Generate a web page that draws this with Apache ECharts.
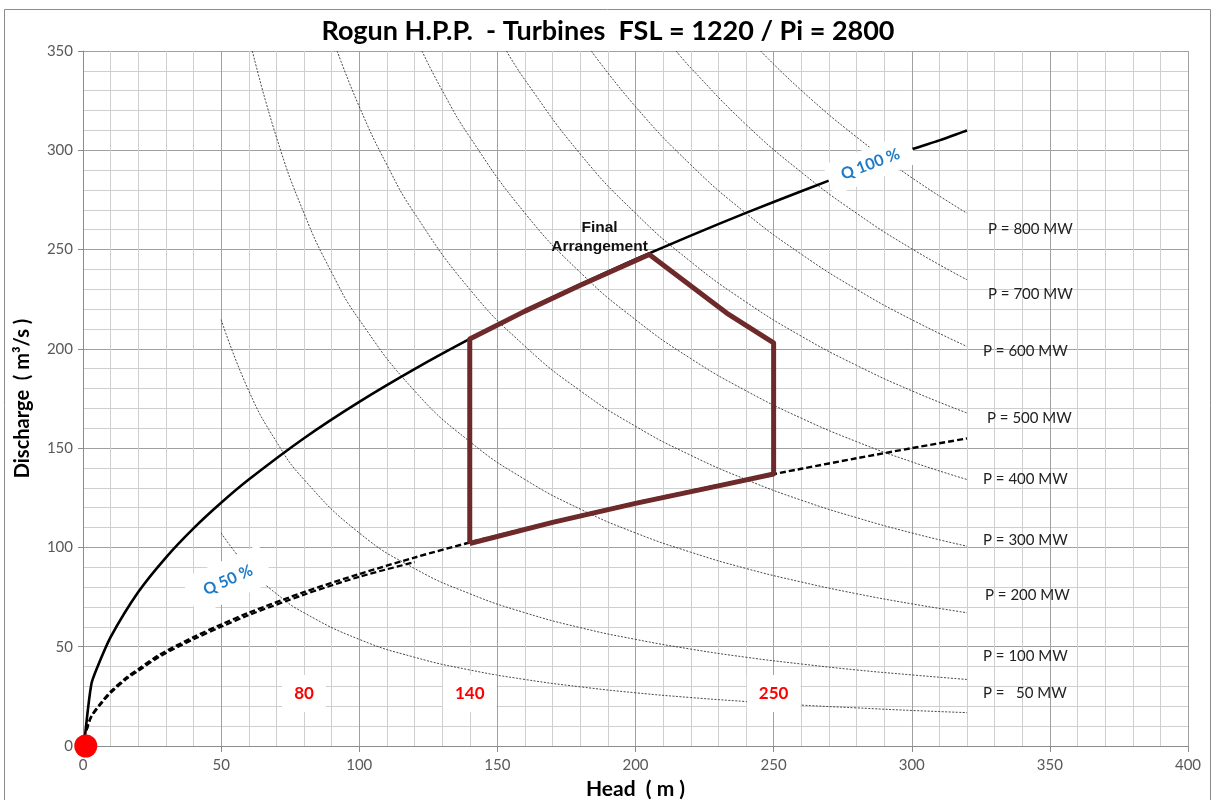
<!DOCTYPE html>
<html>
<head>
<meta charset="utf-8">
<title>Rogun H.P.P. - Turbines</title>
<script src="https://cdn.jsdelivr.net/npm/echarts@6/dist/echarts.min.js"></script>
<style>
  html, body { margin: 0; padding: 0; background: #fff; }
  #chart { width: 1216px; height: 800px; }
</style>
</head>
<body>
<div id="chart"></div>
<script>
// Q 100 % curve  [head, discharge]
const q100 = [[0.7,4.7],[3,31],[5,39],[10,54.8],[20,77.5],[30,94.9],[40,109.6],[50,122.5],[60,134.2],
  [80,155],[100,173.3],[120,189.8],[140,205],[160,219.2],[180,232.5],[200,245.1],[220,257],
  [240,268.5],[260,279.4],[280,290],[300,300.5],[310,305],[320,310]];
// Q 50 % curve
const q50 = [[1.3,8],[3,15],[7,22.6],[10,27.4],[16,34.8],[20,38.7],[28,46.2],[40,54.8],[50,61.2],[60,67.1],
  [80,77.5],[100,86.6],[120,94.9],[140,102.5],[160,109.5],[180,116.2],[200,122.5],[220,128.5],
  [240,134.2],[260,139.6],[280,144.9],[300,150],[320,154.9]];
// second (short) Q 50 % trace
const q50b = [[1.3,8],[3,14.6],[7,22],[10,26.7],[16,34],[20,37.8],[28,45.2],[40,53.7],[50,60],[60,65.9],
  [80,76.2],[100,85.2],[120,92.6]];

// power curves  P = const
const p50 = [[50,107.3],[60,89.4],[70,76.7],[80,67.1],[100,53.7],[120,44.7],[140,38.3],[160,33.5],
  [180,29.8],[200,26.8],[220,24.4],[240,22.4],[260,20.6],[280,19.2],[300,17.9],[320,16.8]];
const p100 = [[50,214.7],[60,178.9],[70,153.3],[80,134.2],[100,107.3],[120,89.4],[140,76.7],[160,67.1],
  [180,59.6],[200,53.7],[220,48.8],[240,44.7],[260,41.3],[280,38.3],[300,35.8],[320,33.5]];
const p200 = [[61.3,350],[70,306.7],[80,268.3],[90,238.5],[100,214.7],[120,178.9],[140,153.3],[160,134.2],
  [180,119.3],[200,107.3],[220,97.6],[240,89.4],[260,82.6],[280,76.7],[300,71.6],[320,67.1]];
const p300 = [[92,350],[100,322],[110,292.7],[120,268.3],[140,230],[160,201.3],[180,178.9],[200,161],
  [220,146.4],[240,134.2],[260,123.8],[280,115],[300,107.3],[320,100.6]];
const p400 = [[122.7,350],[130,330.2],[140,306.7],[160,268.3],[180,238.5],[200,214.7],[220,195.1],
  [240,178.9],[260,165.1],[280,153.3],[300,143.1],[320,134.2]];
const p500 = [[153.3,350],[160,335.4],[180,298.1],[200,268.3],[220,243.9],[240,223.6],[260,206.4],
  [280,191.7],[300,178.9],[320,167.7]];
const p600 = [[184,350],[200,322],[220,292.7],[240,268.3],[260,247.7],[280,230],[300,214.7],[320,201.2]];
const p700 = [[214.7,350],[220,341.5],[240,313],[260,289],[280,268.3],[300,250.4],[320,234.8]];
const p800 = [[245.3,350],[260,330.2],[280,306.7],[300,286.2],[320,268.3]];

const powerCurves = [p50, p100, p200, p300, p400, p500, p600, p700, p800];
const powerNames = ['P =   50 MW', 'P = 100 MW', 'P = 200 MW', 'P = 300 MW', 'P = 400 MW',
  'P = 500 MW', 'P = 600 MW', 'P = 700 MW', 'P = 800 MW'];
// pixel nudges for the end labels
const labelNudge = [[0,-19],[0,-23],[2,-18],[0,-6],[0,0],[4,5],[0,5],[5,14],[5,16]];

// final arrangement outline
const finalArea = [[140,102],[140,205],[160,219],[180,232],[205,247.5],[233,218],[250,203],
  [250,137],[230,131],[200,122.2],[170,112.6],[140,102]];

// head marks (m)
const headMarks = [80, 140, 250];
const headMarkLevel = 26.5;

const chart = echarts.init(document.getElementById('chart'));

const tickFont = { color: '#595959', fontSize: 15, fontFamily: 'Lato' };

const series = [];

powerCurves.forEach(function (pts, i) {
  series.push({
    type: 'line',
    data: pts,
    smooth: true,
    symbol: 'none',
    silent: true,
    z: 2,
    lineStyle: { color: '#333', width: 0.9, type: [2, 1.5] },
    endLabel: {
      show: true,
      formatter: powerNames[i],
      distance: 16,
      offset: labelNudge[i],
      color: '#222',
      fontSize: 15,
      fontFamily: 'Lato'
    }
  });
});

series.push({
  type: 'line', data: q100, smooth: 0.25, symbol: 'none', z: 4,
  lineStyle: { color: '#000', width: 2.6 }
});
series.push({
  type: 'line', data: q50, smooth: 0.3, symbol: 'none', z: 4,
  lineStyle: { color: '#000', width: 2.4, type: [6, 3] }
});
series.push({
  type: 'line', data: q50b, smooth: 0.3, symbol: 'none', z: 4,
  lineStyle: { color: '#000', width: 2.2, type: [6, 3] }
});
series.push({
  type: 'line', data: finalArea, symbol: 'none', z: 5,
  lineStyle: { color: '#6E2A2A', width: 5, join: 'round' }
});

const solid = { opacity: 1 };

// Q labels on curves
series.push({
  type: 'scatter', symbolSize: 0, z: 8, silent: true, itemStyle: solid,
  data: [[285, 293]],
  label: {
    show: true, position: 'inside', formatter: 'Q 100 %', rotate: 21,
    color: '#1E7BC8', fontWeight: 'bold', fontSize: 16, fontFamily: 'Lato',
    backgroundColor: '#fff', padding: [8, 14]
  }
});
series.push({
  type: 'scatter', symbolSize: 0, z: 8, silent: true, itemStyle: solid,
  data: [[52.5, 83.5]],
  label: {
    show: true, position: 'inside', formatter: 'Q 50 %', rotate: 24,
    color: '#1E7BC8', fontWeight: 'bold', fontSize: 16, fontFamily: 'Lato',
    backgroundColor: '#fff', padding: [12, 16]
  }
});
// head marks
series.push({
  type: 'scatter', symbolSize: 0, z: 8, silent: true, itemStyle: solid,
  data: headMarks.map(function (h) { return [h, headMarkLevel]; }),
  label: {
    show: true, position: 'inside',
    formatter: function (p) { return String(p.value[0]); },
    color: '#FF0000', fontWeight: 'bold', fontSize: 17, fontFamily: 'Lato',
    backgroundColor: '#fff', padding: [10, 12]
  }
});
// final arrangement caption
series.push({
  type: 'scatter', symbolSize: 0, z: 8, silent: true, itemStyle: solid,
  data: [[187, 256]],
  label: {
    show: true, position: 'inside', formatter: 'Final\nArrangement',
    color: '#111', fontWeight: 'bold', fontSize: 15.5, lineHeight: 19,
    fontFamily: 'Liberation Sans', align: 'center'
  }
});
// origin marker
series.push({
  type: 'scatter', data: [[1, 0]], symbolSize: 23, z: 9, clip: false,
  itemStyle: { color: '#FF0000', opacity: 1 }
});

const option = {
  animation: false,
  backgroundColor: '#fff',
  title: {
    text: 'Rogun H.P.P.  - Turbines  FSL = 1220 / Pi = 2800',
    left: 'center',
    top: 13,
    textStyle: { fontSize: 27, fontWeight: 'bold', color: '#000', fontFamily: 'Lato' }
  },
  graphic: [{
    type: 'rect',
    shape: { x: 4.5, y: 9.5, width: 1206, height: 800 },
    style: { fill: 'none', stroke: '#8c8c8c', lineWidth: 1 },
    z: -1
  }],
  grid: { left: 83, right: 28, top: 51, bottom: 54, outerBoundsMode: 'none' },
  xAxis: {
    type: 'value', min: 0, max: 400, interval: 50,
    name: 'Head  ( m )', nameLocation: 'middle', nameGap: 33,
    nameTextStyle: { fontSize: 21, fontWeight: 'bold', color: '#000', fontFamily: 'Lato' },
    axisLine: { show: true, lineStyle: { color: '#8c8c8c' } },
    axisTick: { show: true, length: 6, lineStyle: { color: '#8c8c8c' } },
    axisLabel: Object.assign({ margin: 12 }, tickFont),
    splitLine: { show: true, lineStyle: { color: '#a0a0a0' } },
    minorTick: { show: false, splitNumber: 5 },
    minorSplitLine: { show: true, lineStyle: { color: '#cfcfcf' } }
  },
  yAxis: {
    type: 'value', min: 0, max: 350, interval: 50,
    name: 'Discharge  ( m³/s )', nameLocation: 'middle', nameGap: 50,
    nameTextStyle: { fontSize: 20, fontWeight: 'bold', color: '#000', fontFamily: 'Lato' },
    axisLine: { show: true, lineStyle: { color: '#8c8c8c' } },
    axisTick: { show: true, length: 5, lineStyle: { color: '#8c8c8c' } },
    axisLabel: Object.assign({ margin: 10 }, tickFont),
    splitLine: { show: true, lineStyle: { color: '#a0a0a0' } },
    minorTick: { show: false, splitNumber: 5 },
    minorSplitLine: { show: true, lineStyle: { color: '#cfcfcf' } }
  },
  series: series
};

chart.setOption(option);
</script>
</body>
</html>
